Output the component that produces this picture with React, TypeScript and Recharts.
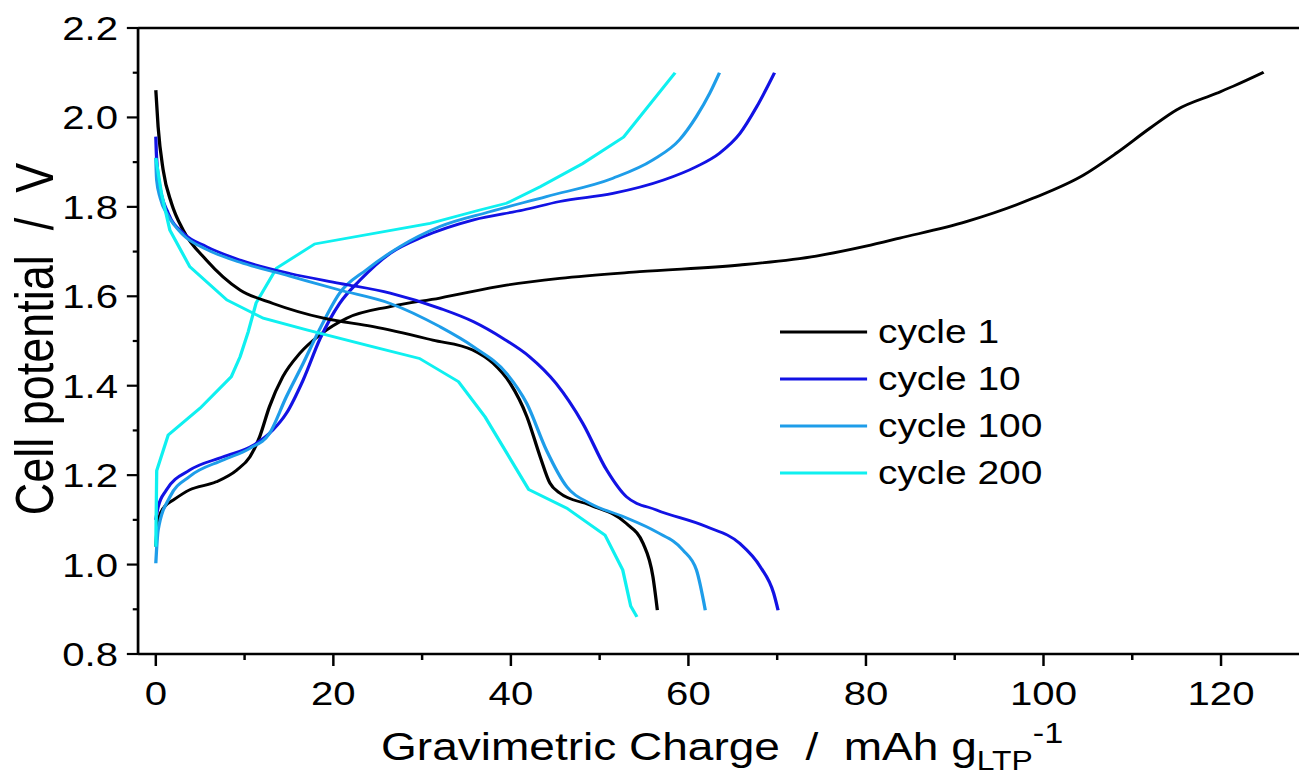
import React from 'react';
import { LineChart, Line, XAxis, YAxis, ReferenceLine, Legend } from 'recharts';

type Pt = { x: number; v: number };

// charge / discharge curves (x in mAh/g, v in V)
const cycle1Charge: Pt[] = [
  { x: 0, v: 1.04 }, { x: 0.15, v: 1.08 }, { x: 0.4, v: 1.107 }, { x: 1.0, v: 1.13 },
  { x: 1.95, v: 1.144 }, { x: 3.8, v: 1.167 }, { x: 6.8, v: 1.185 }, { x: 9.1, v: 1.211 },
  { x: 10.6, v: 1.241 }, { x: 11.7, v: 1.286 }, { x: 12.8, v: 1.353 }, { x: 14.3, v: 1.42 },
  { x: 16.2, v: 1.472 }, { x: 18.5, v: 1.514 }, { x: 21.5, v: 1.551 }, { x: 26.4, v: 1.577 },
  { x: 32, v: 1.596 }, { x: 39.5, v: 1.625 }, { x: 45.5, v: 1.64 }, { x: 54.5, v: 1.655 },
  { x: 65.8, v: 1.67 }, { x: 74.4, v: 1.69 }, { x: 80, v: 1.712 }, { x: 83.8, v: 1.73 },
  { x: 91.3, v: 1.767 }, { x: 98.8, v: 1.819 }, { x: 104.5, v: 1.871 }, { x: 108.2, v: 1.92 },
  { x: 112, v: 1.976 }, { x: 115, v: 2.017 }, { x: 119.5, v: 2.054 }, { x: 121.4, v: 2.07 },
  { x: 124.8, v: 2.101 },
];
const cycle1Discharge: Pt[] = [
  { x: 0, v: 2.061 }, { x: 0.26, v: 1.979 }, { x: 0.83, v: 1.882 }, { x: 1.77, v: 1.808 },
  { x: 3.08, v: 1.748 }, { x: 5.7, v: 1.681 }, { x: 9.5, v: 1.614 }, { x: 13.2, v: 1.584 },
  { x: 18.9, v: 1.551 }, { x: 24.5, v: 1.532 }, { x: 31.2, v: 1.502 }, { x: 35.7, v: 1.48 },
  { x: 38, v: 1.45 }, { x: 39.9, v: 1.406 }, { x: 41.8, v: 1.331 }, { x: 43.3, v: 1.241 },
  { x: 44.4, v: 1.182 }, { x: 45.5, v: 1.16 }, { x: 48.9, v: 1.133 }, { x: 53, v: 1.092 },
  { x: 54.9, v: 1.047 }, { x: 56, v: 0.973 }, { x: 56.5, v: 0.898 },
];
const cycle10Charge: Pt[] = [
  { x: 0, v: 1.1 }, { x: 0.26, v: 1.129 }, { x: 1.2, v: 1.167 }, { x: 3.8, v: 1.211 },
  { x: 7.6, v: 1.241 }, { x: 11, v: 1.267 }, { x: 13.2, v: 1.301 }, { x: 14.7, v: 1.338 },
  { x: 16.6, v: 1.413 }, { x: 18.5, v: 1.505 }, { x: 20.7, v: 1.584 }, { x: 23, v: 1.636 },
  { x: 26.4, v: 1.696 }, { x: 30.1, v: 1.733 }, { x: 35.8, v: 1.771 }, { x: 41.4, v: 1.793 },
  { x: 45.5, v: 1.812 }, { x: 51.5, v: 1.83 }, { x: 57.2, v: 1.86 }, { x: 60.9, v: 1.89 },
  { x: 63.5, v: 1.92 }, { x: 65.8, v: 1.964 }, { x: 67.7, v: 2.024 }, { x: 69.7, v: 2.1 },
];
const cycle10Discharge: Pt[] = [
  { x: 0, v: 1.957 }, { x: 0.08, v: 1.912 }, { x: 0.45, v: 1.845 }, { x: 1.39, v: 1.786 },
  { x: 3.1, v: 1.741 }, { x: 5.7, v: 1.711 }, { x: 9.5, v: 1.681 }, { x: 15.1, v: 1.651 },
  { x: 20.7, v: 1.629 }, { x: 26.4, v: 1.607 }, { x: 32, v: 1.573 }, { x: 35.8, v: 1.543 },
  { x: 39.1, v: 1.506 }, { x: 42.1, v: 1.465 }, { x: 45.1, v: 1.405 }, { x: 48.1, v: 1.316 },
  { x: 50.8, v: 1.211 }, { x: 53, v: 1.152 }, { x: 56.4, v: 1.122 }, { x: 62, v: 1.085 },
  { x: 65.8, v: 1.047 }, { x: 68.1, v: 0.995 }, { x: 69.6, v: 0.936 }, { x: 70.1, v: 0.898 },
];
const cycle100Charge: Pt[] = [
  { x: 0, v: 1.003 }, { x: 0.26, v: 1.077 }, { x: 1.6, v: 1.152 }, { x: 3.8, v: 1.197 },
  { x: 7.6, v: 1.234 }, { x: 10.6, v: 1.26 }, { x: 12.8, v: 1.293 }, { x: 14.7, v: 1.375 },
  { x: 16.6, v: 1.45 }, { x: 18.3, v: 1.52 }, { x: 20.7, v: 1.607 }, { x: 23.7, v: 1.659 },
  { x: 27.5, v: 1.711 }, { x: 32, v: 1.756 }, { x: 37.6, v: 1.789 }, { x: 44, v: 1.823 },
  { x: 51.5, v: 1.864 }, { x: 56, v: 1.905 }, { x: 59, v: 1.95 }, { x: 60.9, v: 2.002 },
  { x: 62.4, v: 2.054 }, { x: 63.5, v: 2.1 },
];
const cycle100Discharge: Pt[] = [
  { x: 0, v: 1.91 }, { x: 0.1, v: 1.86 }, { x: 0.5, v: 1.82 }, { x: 1.39, v: 1.78 },
  { x: 3.1, v: 1.737 }, { x: 5.7, v: 1.705 }, { x: 9.5, v: 1.676 }, { x: 15.1, v: 1.645 },
  { x: 20.7, v: 1.614 }, { x: 26.4, v: 1.584 }, { x: 32, v: 1.532 }, { x: 35.8, v: 1.487 },
  { x: 39.5, v: 1.428 }, { x: 41.8, v: 1.36 }, { x: 44, v: 1.256 }, { x: 46.3, v: 1.174 },
  { x: 48.9, v: 1.137 }, { x: 52.7, v: 1.107 }, { x: 56.4, v: 1.073 }, { x: 59.4, v: 1.032 },
  { x: 60.9, v: 0.988 }, { x: 61.9, v: 0.898 },
];
const cycle200Charge: Pt[] = [
  { x: 0, v: 1.04 }, { x: 0.1, v: 1.21 }, { x: 1.4, v: 1.29 }, { x: 5, v: 1.35 },
  { x: 8.5, v: 1.42 }, { x: 9.5, v: 1.465 }, { x: 10.4, v: 1.52 }, { x: 11.3, v: 1.585 },
  { x: 13.6, v: 1.663 }, { x: 17.9, v: 1.717 }, { x: 30.9, v: 1.763 }, { x: 36.5, v: 1.793 },
  { x: 39.5, v: 1.808 }, { x: 43.3, v: 1.845 }, { x: 48.1, v: 1.897 }, { x: 52.7, v: 1.956 },
  { x: 58.5, v: 2.1 },
];
const cycle200Discharge: Pt[] = [
  { x: 0, v: 1.909 }, { x: 0.64, v: 1.83 }, { x: 1.58, v: 1.748 }, { x: 3.83, v: 1.666 },
  { x: 8, v: 1.592 }, { x: 12.1, v: 1.551 }, { x: 17, v: 1.525 }, { x: 24.5, v: 1.487 },
  { x: 29.7, v: 1.461 }, { x: 34.1, v: 1.409 }, { x: 37.1, v: 1.33 }, { x: 42, v: 1.168 },
  { x: 46.3, v: 1.126 }, { x: 50.6, v: 1.066 }, { x: 52.6, v: 0.988 }, { x: 53.5, v: 0.907 },
  { x: 54.2, v: 0.883 },
];

const cycleNames = ['cycle 1', 'cycle 10', 'cycle 100', 'cycle 200'];
const cycleColors = ['#000000', '#1212e4', '#1e9de9', '#0ff0f0'];
const chargeCurves = [cycle1Charge, cycle10Charge, cycle100Charge, cycle200Charge];
const dischargeCurves = [cycle1Discharge, cycle10Discharge, cycle100Discharge, cycle200Discharge];
const curveTypes = ['monotone', 'monotone', 'monotone', 'linear'] as const;

const xMajorTicks = [0, 20, 40, 60, 80, 100, 120];
const xMinorTicks = [10, 30, 50, 70, 90, 110];
const yMajorTicks = [0.8, 1.0, 1.2, 1.4, 1.6, 1.8, 2.0, 2.2];
const yMinorTicks = [0.9, 1.1, 1.3, 1.5, 1.7, 1.9, 2.1];

// the reference image is stretched horizontally, so the chart is too
const STRETCH = 1.18;
const FONT = 'Liberation Sans, Arial, sans-serif';

const YTick = ({ x, y, payload }: any) => {
  const major = yMajorTicks.includes(payload.value);
  return (
    <g>
      <line x1={x} x2={x - (major ? 9.5 : 4.5)} y1={y} y2={y} stroke="#000" strokeWidth={2.2} />
      {major && (
        <text x={x - 17} y={y} dy={12} textAnchor="end" fontSize={34} fontFamily={FONT} fill="#000">
          {payload.value.toFixed(1)}
        </text>
      )}
    </g>
  );
};

const XTick = ({ x, y, payload }: any) => {
  const major = xMajorTicks.includes(payload.value);
  return (
    <g>
      <line x1={x} x2={x} y1={y} y2={y + (major ? 12 : 6)} stroke="#000" strokeWidth={2.1} />
      {major && (
        <text x={x} y={y + 51} textAnchor="middle" fontSize={34} fontFamily={FONT} fill="#000">
          {payload.value}
        </text>
      )}
    </g>
  );
};

const renderLegend = () => (
  <div style={{ fontFamily: FONT, fontSize: 33, color: '#000' }}>
    {cycleNames.map((name, i) => (
      <div key={name} style={{ display: 'flex', alignItems: 'center', height: 47 }}>
        <svg width={74} height={6} style={{ marginRight: 9 }}>
          <line x1={0} x2={74} y1={3} y2={3} stroke={cycleColors[i]} strokeWidth={3} />
        </svg>
        <span style={{ whiteSpace: 'nowrap' }}>{name}</span>
      </div>
    ))}
  </div>
);

const App = () => {
  return (
    <div
      style={{
        position: 'fixed',
        left: 0,
        top: 0,
        width: 1115,
        height: 778,
        background: '#fff',
        transform: `scaleX(${STRETCH})`,
        transformOrigin: '0 0',
      }}
    >
      <LineChart width={1115} height={778} margin={{ top: 28, right: 5, left: 0, bottom: 0 }}>
        <XAxis
          type="number"
          dataKey="x"
          domain={[-2, 130]}
          ticks={[...xMajorTicks, ...xMinorTicks].sort((a, b) => a - b)}
          interval={0}
          tick={<XTick />}
          tickLine={false}
          tickSize={0}
          tickMargin={0}
          height={124}
          axisLine={{ stroke: '#000', strokeWidth: 2.5 }}
          allowDataOverflow
          label={{
            content: () => (
              <text x={612} y={760} textAnchor="middle" fontSize={39} fontFamily={FONT} fill="#000">
                {'Gravimetric Charge \u00A0/\u00A0 mAh g'}
                <tspan fontSize={27} dy={10}>LTP</tspan>
                <tspan fontSize={29} dy={-27}>-1</tspan>
              </text>
            ),
          }}
        />
        <YAxis
          type="number"
          domain={[0.8, 2.2]}
          ticks={[...yMajorTicks, ...yMinorTicks].sort((a, b) => a - b)}
          interval={0}
          tick={<YTick />}
          tickLine={false}
          tickSize={0}
          tickMargin={0}
          width={117}
          axisLine={{ stroke: '#000', strokeWidth: 2.3 }}
          allowDataOverflow
          label={{
            content: () => (
              <text
                x={0}
                y={0}
                transform="translate(45, 339) rotate(-90)"
                textAnchor="middle"
                fontSize={45}
                fontFamily={FONT}
                fill="#000"
              >
                {'Cell potential \u00A0/\u00A0 V'}
              </text>
            ),
          }}
        />
        <ReferenceLine y={2.2} stroke="#000" strokeWidth={2.5} />
        <Legend
          layout="vertical"
          align="center"
          verticalAlign="middle"
          content={renderLegend}
          wrapperStyle={{ position: 'absolute', left: 661, top: 308, width: 'auto', height: 'auto' }}
        />
        {chargeCurves.map((d, i) => (
          <Line
            key={`c${i}`}
            data={d}
            dataKey="v"
            type={curveTypes[i]}
            stroke={cycleColors[i]}
            strokeWidth={2.8}
            dot={false}
            isAnimationActive={false}
            name={cycleNames[i]}
          />
        ))}
        {dischargeCurves.map((d, i) => (
          <Line
            key={`d${i}`}
            data={d}
            dataKey="v"
            type={curveTypes[i]}
            stroke={cycleColors[i]}
            strokeWidth={2.8}
            dot={false}
            isAnimationActive={false}
            legendType="none"
          />
        ))}
      </LineChart>
    </div>
  );
};

export default App;
